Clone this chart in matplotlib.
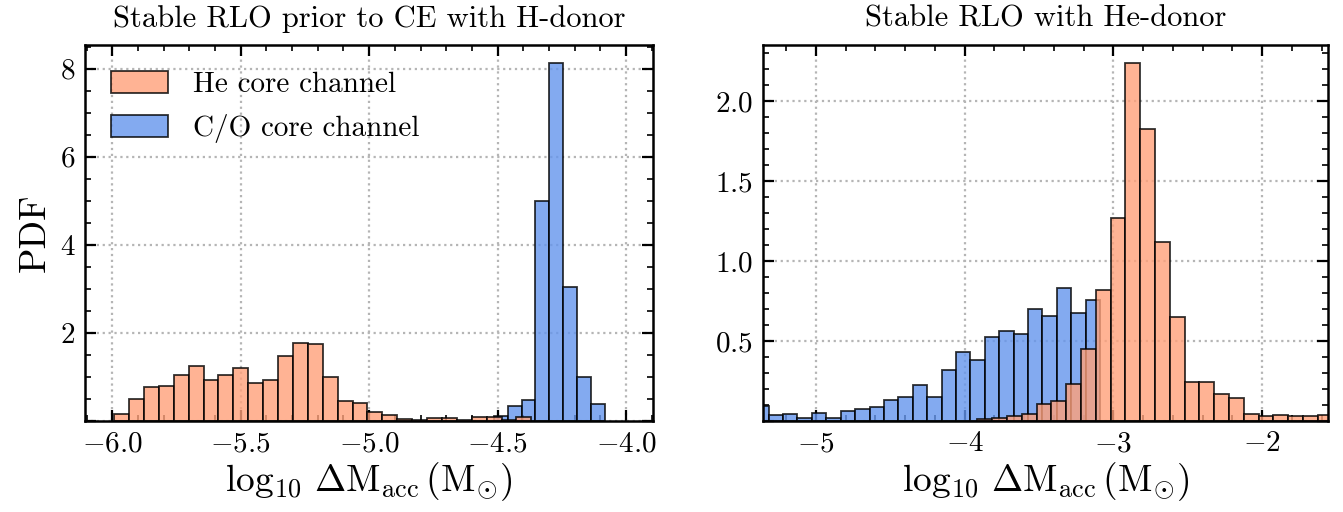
import numpy as np
import matplotlib
matplotlib.use("Agg")
import matplotlib.pyplot as plt
from matplotlib.ticker import MultipleLocator, FuncFormatter
from matplotlib.patches import Patch

plt.rcParams.update({
    "font.family": "serif",
    "font.serif": ["cmr10"],
    "mathtext.fontset": "cm",
    "axes.formatter.use_mathtext": True,
    "axes.unicode_minus": True,
})

# ---------------- data ----------------
# Left panel: Stable RLO prior to CE with H-donor
left_he_start = -5.9926
left_he_width = 0.0580
left_he_pdf = [0.16, 0.49, 0.78, 0.80, 1.04, 1.26, 0.92, 1.04, 1.20, 0.86,
               0.92, 1.48, 1.76, 1.74, 1.01, 0.45, 0.40, 0.21, 0.14, 0.04,
               0.02, 0.07, 0.06, 0.03, 0.08, 0.08, 0.02, 0.09]
left_co_start = -4.515
left_co_width = 0.0541
left_co_pdf = [0.12, 0.35, 0.48, 4.99, 8.13, 3.04, 1.01, 0.39]

# Right panel: Stable RLO with He-donor
right_co_start = -5.415
right_co_width = 0.0969
right_co_pdf = [0.094, 0.036, 0.042, 0.021, 0.050, 0.021, 0.063, 0.073,
                0.088, 0.131, 0.152, 0.225, 0.152, 0.317, 0.434, 0.381,
                0.527, 0.563, 0.544, 0.698, 0.654, 0.831, 0.675, 0.759]
right_he_start = -3.914
right_he_width = 0.0995
right_he_pdf = [0.012, 0.017, 0.034, 0.046, 0.109, 0.125, 0.231, 0.450,
                0.817, 1.271, 2.238, 1.825, 1.119, 0.648, 0.244, 0.246,
                0.171, 0.142, 0.044, 0.029, 0.038, 0.031, 0.029, 0.038]

titles = ["Stable RLO prior to CE with H-donor", "Stable RLO with He-donor"]
labels = ["He core channel", "C/O core channel"]
xlabel = r"$\log_{10}\,\Delta\mathrm{M}_{\rm acc}\,(\mathrm{M}_{\odot})$"
ylabel = "PDF"

he_color = "lightsalmon"
co_color = "cornflowerblue"


def draw_hist(ax, start, width, pdf, color):
    pdf = np.asarray(pdf)
    edges = start + width * np.arange(len(pdf) + 1)
    centers = 0.5 * (edges[:-1] + edges[1:])
    ax.hist(centers, bins=edges, weights=pdf, color=color, alpha=0.8,
            edgecolor="black", linewidth=1.3)


fig = plt.figure(figsize=(13.43, 5.12), dpi=100)
W, H = 1343, 512
axL = fig.add_axes([85 / W, (512 - 421) / H, 568 / W, 376 / H])
axR = fig.add_axes([763 / W, (512 - 421) / H, 565 / W, 376 / H])

draw_hist(axL, left_co_start, left_co_width, left_co_pdf, co_color)
draw_hist(axL, left_he_start, left_he_width, left_he_pdf, he_color)
draw_hist(axR, right_co_start, right_co_width, right_co_pdf, co_color)
draw_hist(axR, right_he_start, right_he_width, right_he_pdf, he_color)

axL.set_xlim(-6.106, -3.895)
axL.set_ylim(0, max(left_co_pdf) * 1.05)
axR.set_xlim(-5.356, -1.557)
axR.set_ylim(0, max(right_he_pdf) * 1.05)

axL.xaxis.set_major_locator(MultipleLocator(0.5))
axL.xaxis.set_minor_locator(MultipleLocator(0.1))
axL.yaxis.set_major_locator(MultipleLocator(2))
axL.yaxis.set_minor_locator(MultipleLocator(0.5))
axL.xaxis.set_major_formatter(FuncFormatter(lambda v, p: r"$%.1f$" % v))
axL.yaxis.set_major_formatter(FuncFormatter(lambda v, p: "" if abs(v) < 1e-9 else r"$%d$" % round(v)))

axR.xaxis.set_major_locator(MultipleLocator(1))
axR.xaxis.set_minor_locator(MultipleLocator(0.2))
axR.yaxis.set_major_locator(MultipleLocator(0.5))
axR.yaxis.set_minor_locator(MultipleLocator(0.1))
axR.xaxis.set_major_formatter(FuncFormatter(lambda v, p: r"$%d$" % round(v)))
axR.yaxis.set_major_formatter(FuncFormatter(lambda v, p: "" if abs(v) < 1e-9 else r"$%.1f$" % v))

for ax, t in zip([axL, axR], titles):
    ax.set_title(t, fontsize=22, pad=13)
    ax.set_xlabel(xlabel, fontsize=27, labelpad=2)
    ax.grid(True, which="major", linestyle=":", color="#b5b5b5", linewidth=1.6)
    ax.set_axisbelow(True)
    ax.tick_params(which="both", direction="in", top=True, right=True)
    ax.tick_params(which="major", length=8, width=1.6, labelsize=21, pad=7)
    ax.tick_params(which="minor", length=4, width=1.2)
    for s in ax.spines.values():
        s.set_linewidth(1.8)

axL.set_ylabel(ylabel, fontsize=27, labelpad=6)

handles = [Patch(facecolor=he_color, alpha=0.8, edgecolor="black", linewidth=1.3),
           Patch(facecolor=co_color, alpha=0.8, edgecolor="black", linewidth=1.3)]
axL.legend(handles, labels, loc="upper left", frameon=False, fontsize=21,
           handlelength=1.95, handleheight=0.75, handletextpad=0.85,
           borderaxespad=0.5, labelspacing=0.55)

fig.savefig("out.png", dpi=100)
